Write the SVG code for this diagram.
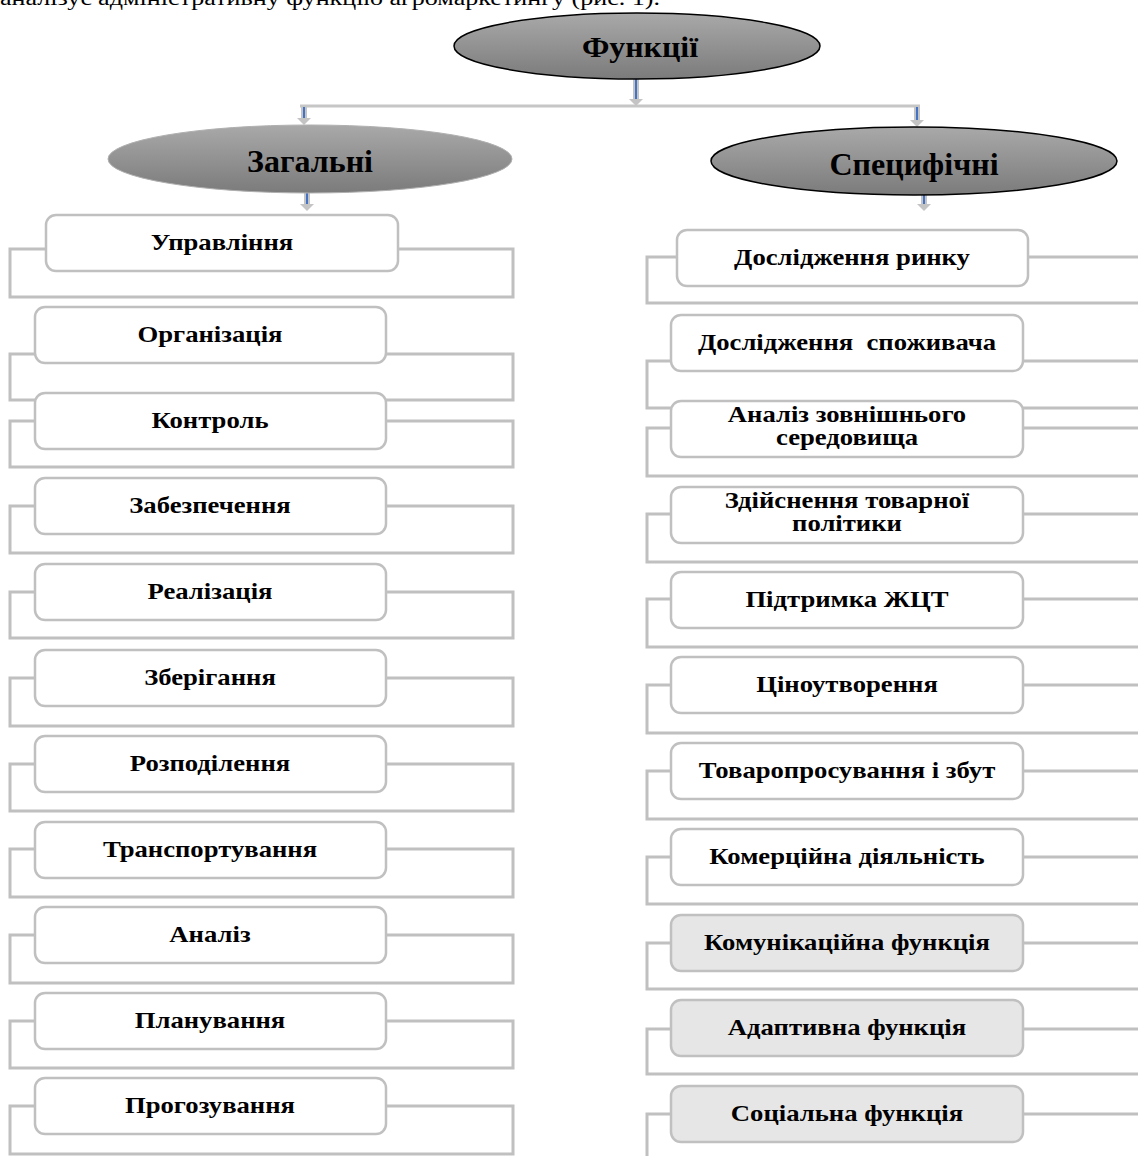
<svg xmlns="http://www.w3.org/2000/svg" width="1138" height="1156" viewBox="0 0 1138 1156">
<style>
.br{fill:none;stroke:#c0c0c0;stroke-width:3}
.box{fill:#ffffff;stroke:#c0c0c0;stroke-width:2.5}
.boxg{fill:#e6e6e6;stroke:#c0c0c0;stroke-width:2.5}
.t{font-family:"Liberation Serif","Times New Roman",serif;font-weight:bold;font-size:23px;fill:#000;text-anchor:middle;white-space:pre}
.h{font-family:"Liberation Serif","Times New Roman",serif;font-weight:bold;fill:#000;text-anchor:middle}
.shaft{stroke:#c4c4c4;stroke-width:6}
.core{stroke:#4472c4;stroke-width:2}
.head{fill:#c4c4c4}
</style>
<defs>
<linearGradient id="eg" x1="0" y1="0" x2="0" y2="1">
<stop offset="0" stop-color="#a9a9a9"/>
<stop offset="1" stop-color="#7b7b7b"/>
</linearGradient>
</defs>
<rect width="1138" height="1156" fill="#ffffff"/>
<text x="0" y="5" font-family="Liberation Serif, serif" font-size="20" textLength="660" lengthAdjust="spacingAndGlyphs">аналізує адміністративну функцію агромаркетингу (рис. 1).</text>

<g id="connectors">
<line x1="300" y1="106" x2="920" y2="106" stroke="#c6c6c6" stroke-width="3"/>
<g id="a1"><line class="shaft" x1="636" y1="79" x2="636" y2="100"/><line class="core" x1="636" y1="79" x2="636" y2="100"/><polygon class="head" points="629,99 643,99 636,106"/></g>
<g id="a2"><line class="shaft" x1="304" y1="107" x2="304" y2="119"/><line class="core" x1="304" y1="107" x2="304" y2="119"/><polygon class="head" points="297,118 311,118 304,125"/></g>
<g id="a3"><line class="shaft" x1="917" y1="107" x2="917" y2="121"/><line class="core" x1="917" y1="107" x2="917" y2="121"/><polygon class="head" points="910,120 924,120 917,127"/></g>
<g id="a4"><line class="shaft" x1="307" y1="193" x2="307" y2="205"/><line class="core" x1="307" y1="193" x2="307" y2="205"/><polygon class="head" points="300,204 314,204 307,211"/></g>
<g id="a5"><line class="shaft" x1="924" y1="195" x2="924" y2="205"/><line class="core" x1="924" y1="195" x2="924" y2="205"/><polygon class="head" points="917,204 931,204 924,211"/></g>
<!-- left brackets -->
<path class="br" d="M46,249 H10 V297 H513 V249 H398"/>
<path class="br" d="M35,354 H10 V400 H513 V354 H386"/>
<path class="br" d="M35,421 H10 V467 H513 V421 H386"/>
<path class="br" d="M35,506 H10 V553 H513 V506 H386"/>
<path class="br" d="M35,592 H10 V638 H513 V592 H386"/>
<path class="br" d="M35,678 H10 V726 H513 V678 H386"/>
<path class="br" d="M35,764 H10 V811 H513 V764 H386"/>
<path class="br" d="M35,849 H10 V897 H513 V849 H386"/>
<path class="br" d="M35,935 H10 V983 H513 V935 H386"/>
<path class="br" d="M35,1021 H10 V1068 H513 V1021 H386"/>
<path class="br" d="M35,1106 H10 V1154 H513 V1106 H386"/>
<!-- right brackets -->
<path class="br" d="M677,257 H647 V303 H1142 M1028,257 H1142"/>
<path class="br" d="M671,361 H647 V408 H1142 M1023,361 H1142"/>
<path class="br" d="M671,428 H647 V476 H1142 M1023,428 H1142"/>
<path class="br" d="M671,514 H647 V562 H1142 M1023,514 H1142"/>
<path class="br" d="M671,599 H647 V647 H1142 M1023,599 H1142"/>
<path class="br" d="M671,685 H647 V733 H1142 M1023,685 H1142"/>
<path class="br" d="M671,771 H647 V819 H1142 M1023,771 H1142"/>
<path class="br" d="M671,857 H647 V904 H1142 M1023,857 H1142"/>
<path class="br" d="M671,943 H647 V989 H1142 M1023,943 H1142"/>
<path class="br" d="M671,1029 H647 V1074 H1142 M1023,1029 H1142"/>
<path class="br" d="M671,1114 H647 V1160 M1023,1114 H1142"/>
</g>

<g id="n-funktsii"><ellipse cx="637" cy="46" rx="183" ry="33" fill="url(#eg)" stroke="#000" stroke-width="1.5"/><text class="h" transform="translate(640,57) scale(1.1,1)" font-size="29">Функції</text></g>
<g id="n-zahalni"><ellipse cx="310" cy="159" rx="202" ry="34" fill="url(#eg)" stroke="#b0b0b0" stroke-width="1"/><text class="h" x="310" y="172" font-size="32">Загальні</text></g>
<g id="n-spetsyfichni"><ellipse cx="914" cy="161" rx="203" ry="34" fill="url(#eg)" stroke="#000" stroke-width="1.5"/><text class="h" x="914" y="175" font-size="32">Специфічні</text></g>

<g id="L1"><rect class="box" x="46" y="215" width="352" height="56" rx="10"/><text class="t" transform="translate(222,250) scale(1.16,1)">Управління</text></g>
<g id="L2"><rect class="box" x="35" y="307" width="351" height="56" rx="10"/><text class="t" transform="translate(210,342) scale(1.16,1)">Організація</text></g>
<g id="L3"><rect class="box" x="35" y="393" width="351" height="56" rx="10"/><text class="t" transform="translate(210,428) scale(1.16,1)">Контроль</text></g>
<g id="L4"><rect class="box" x="35" y="478" width="351" height="56" rx="10"/><text class="t" transform="translate(210,513) scale(1.16,1)">Забезпечення</text></g>
<g id="L5"><rect class="box" x="35" y="564" width="351" height="56" rx="10"/><text class="t" transform="translate(210,599) scale(1.16,1)">Реалізація</text></g>
<g id="L6"><rect class="box" x="35" y="650" width="351" height="56" rx="10"/><text class="t" transform="translate(210,685) scale(1.16,1)">Зберігання</text></g>
<g id="L7"><rect class="box" x="35" y="736" width="351" height="56" rx="10"/><text class="t" transform="translate(210,771) scale(1.16,1)">Розподілення</text></g>
<g id="L8"><rect class="box" x="35" y="822" width="351" height="56" rx="10"/><text class="t" transform="translate(210,857) scale(1.16,1)">Транспортування</text></g>
<g id="L9"><rect class="box" x="35" y="907" width="351" height="56" rx="10"/><text class="t" transform="translate(210,942) scale(1.16,1)">Аналіз</text></g>
<g id="L10"><rect class="box" x="35" y="993" width="351" height="56" rx="10"/><text class="t" transform="translate(210,1028) scale(1.16,1)">Планування</text></g>
<g id="L11"><rect class="box" x="35" y="1078" width="351" height="56" rx="10"/><text class="t" transform="translate(210,1113) scale(1.16,1)">Прогозування</text></g>

<g id="R1"><rect class="box" x="677" y="230" width="351" height="56" rx="10"/><text class="t" transform="translate(852,265) scale(1.16,1)">Дослідження ринку</text></g>
<g id="R2"><rect class="box" x="671" y="315" width="352" height="56" rx="10"/><text class="t" transform="translate(847,350) scale(1.16,1)">Дослідження  споживача</text></g>
<g id="R3"><rect class="box" x="671" y="401" width="352" height="56" rx="10"/><text class="t" transform="translate(847,422) scale(1.16,1)">Аналіз зовнішнього</text><text class="t" transform="translate(847,445) scale(1.16,1)">середовища</text></g>
<g id="R4"><rect class="box" x="671" y="487" width="352" height="56" rx="10"/><text class="t" transform="translate(847,508) scale(1.16,1)">Здійснення товарної</text><text class="t" transform="translate(847,531) scale(1.16,1)">політики</text></g>
<g id="R5"><rect class="box" x="671" y="572" width="352" height="56" rx="10"/><text class="t" transform="translate(847,607) scale(1.16,1)">Підтримка ЖЦТ</text></g>
<g id="R6"><rect class="box" x="671" y="657" width="352" height="56" rx="10"/><text class="t" transform="translate(847,692) scale(1.16,1)">Ціноутворення</text></g>
<g id="R7"><rect class="box" x="671" y="743" width="352" height="56" rx="10"/><text class="t" transform="translate(847,778) scale(1.16,1)">Товаропросування і збут</text></g>
<g id="R8"><rect class="box" x="671" y="829" width="352" height="56" rx="10"/><text class="t" transform="translate(847,864) scale(1.16,1)">Комерційна діяльність</text></g>
<g id="R9"><rect class="boxg" x="671" y="915" width="352" height="56" rx="10"/><text class="t" transform="translate(847,950) scale(1.16,1)">Комунікаційна функція</text></g>
<g id="R10"><rect class="boxg" x="671" y="1000" width="352" height="56" rx="10"/><text class="t" transform="translate(847,1035) scale(1.16,1)">Адаптивна функція</text></g>
<g id="R11"><rect class="boxg" x="671" y="1086" width="352" height="56" rx="10"/><text class="t" transform="translate(847,1121) scale(1.16,1)">Соціальна функція</text></g>
</svg>
